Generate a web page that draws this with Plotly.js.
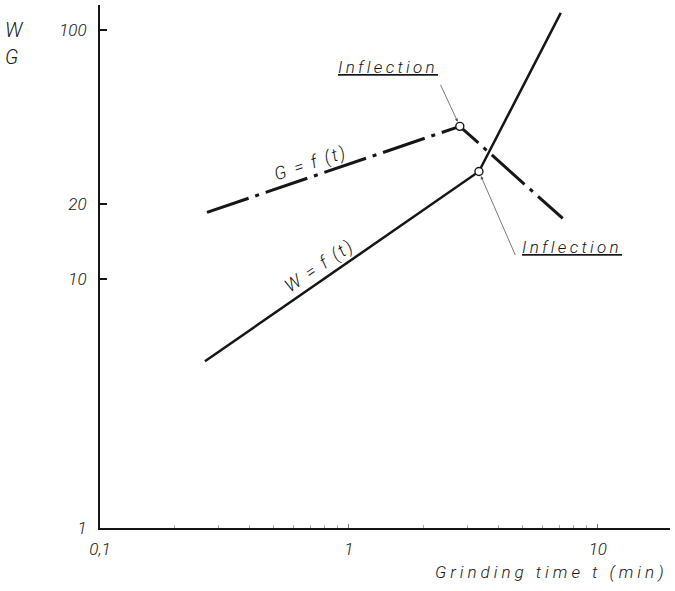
<!DOCTYPE html>
<html>
<head>
<meta charset="utf-8">
<script src="https://cdn.plot.ly/plotly-3.0.1.min.js"></script>
<style>
  html, body { margin: 0; padding: 0; background: #fff; }
  #chart { width: 675px; height: 591px; }
</style>
</head>
<body>
<div id="chart"></div>
<script>
// ---- data (log-log chart) ----
var timeW = [0.264, 3.33, 7.1];     // grinding time t (min) for W
var valuesW = [4.67, 27.0, 117];    // W = f(t)
var timeG = [0.269, 2.79, 7.23];    // grinding time t (min) for G
var valuesG = [18.5, 41.0, 17.5];   // G = f(t)
var inflectionIndex = 1;            // the middle point of each curve

var xTickVals = [0.1, 1, 10];
var xTickText = ['0,1', '1', '10'];
var yTickVals = [1, 10, 20, 100];
var yTickText = ['1', '10', '20', '100'];
var xMinorVals = [0.2,0.3,0.4,0.5,0.6,0.7,0.8,0.9,2,3,4,5,6,7,8,9];

var FONT = 'Roboto, Liberation Sans, Arial, sans-serif';
var INK = '#161616';

var traces = [
  { x: timeW, y: valuesW, mode: 'lines', type: 'scatter',
    line: { color: INK, width: 2.5 }, hoverinfo: 'skip' },
  { x: timeG, y: valuesG, mode: 'lines', type: 'scatter',
    line: { color: INK, width: 3, dash: '44px,7px,4px,7px' }, hoverinfo: 'skip' },
  { x: [timeG[inflectionIndex], timeW[inflectionIndex]],
    y: [valuesG[inflectionIndex], valuesW[inflectionIndex]],
    mode: 'markers', type: 'scatter',
    marker: { symbol: 'circle', size: 8, color: '#fff', line: { color: INK, width: 1.4 } },
    hoverinfo: 'skip' }
];

var lg = Math.log10;
function f(size) { return { family: FONT, size: size, color: INK, style: 'italic', weight: 300 }; }

var layout = {
  width: 675, height: 591,
  margin: { l: 100, r: 5, t: 5, b: 63 },
  paper_bgcolor: '#fff', plot_bgcolor: '#fff',
  showlegend: false,
  xaxis: {
    type: 'log', range: [-1, 1.29],
    showgrid: false, zeroline: false,
    showline: true, linecolor: INK, linewidth: 2,
    tickvals: xTickVals, ticktext: xTickText,
    ticks: 'inside', ticklen: 4, tickcolor: '#777', tickwidth: 1,
    minor: { tickvals: xMinorVals, ticks: 'inside', ticklen: 3, tickcolor: '#aaa', tickwidth: 1 },
    tickfont: f(17),
    ticklabelstandoff: 5
  },
  yaxis: {
    type: 'log', range: [0, 2.1],
    showgrid: false, zeroline: false,
    showline: true, linecolor: INK, linewidth: 2,
    tickvals: yTickVals, ticktext: yTickText,
    ticks: 'inside', ticklen: 7, tickcolor: INK, tickwidth: 1.3,
    tickfont: f(17),
    ticklabelstandoff: 8
  },
  annotations: [
    // x axis title, right aligned
    { xref: 'paper', yref: 'paper', x: 1, y: -0.085, xanchor: 'right', yanchor: 'middle',
      text: '<span style="letter-spacing:4px">Grinding time t (min)</span>',
      showarrow: false, font: f(17) },
    // axis symbols top-left
    { xref: 'paper', yref: 'paper', x: -0.15, y: 0.953, xanchor: 'center', yanchor: 'middle',
      text: 'W', showarrow: false, font: f(20) },
    { xref: 'paper', yref: 'paper', x: -0.155, y: 0.9, xanchor: 'center', yanchor: 'middle',
      text: 'G', showarrow: false, font: f(20) },
    // curve labels
    { xref: 'x', yref: 'y', x: -0.153, y: 1.464, showarrow: false, textangle: -18, font: f(18),
      text: '<span style="letter-spacing:2px">G = f (t)</span>' },
    { xref: 'x', yref: 'y', x: -0.120, y: 1.052, showarrow: false, textangle: -34, font: f(18),
      text: '<span style="letter-spacing:2px">W = f (t)</span>' },
    // upper inflection label (G curve)
    { xref: 'x', yref: 'y', x: lg(timeG[inflectionIndex]), y: lg(valuesG[inflectionIndex]),
      xshift: -72, yshift: 59, showarrow: false,
      text: '<span style="letter-spacing:3.3px;text-decoration:underline">Inflection</span>',
      font: f(17) },
    { xref: 'x', yref: 'y', x: lg(timeG[inflectionIndex]), y: lg(valuesG[inflectionIndex]),
      ax: -20, ay: -43, text: '', showarrow: true, arrowhead: 2, arrowsize: 0.8,
      arrowwidth: 0.8, arrowcolor: '#555', standoff: 5 },
    // lower inflection label (W curve)
    { xref: 'x', yref: 'y', x: lg(timeW[inflectionIndex]), y: lg(valuesW[inflectionIndex]),
      xshift: 93, yshift: -75, showarrow: false,
      text: '<span style="letter-spacing:3.3px;text-decoration:underline">Inflection</span>',
      font: f(17) },
    { xref: 'x', yref: 'y', x: lg(timeW[inflectionIndex]), y: lg(valuesW[inflectionIndex]),
      ax: 37, ay: 85, text: '', showarrow: true, arrowhead: 2, arrowsize: 0.8,
      arrowwidth: 0.8, arrowcolor: '#555', standoff: 5 }
  ]
};

Plotly.newPlot('chart', traces, layout, { displayModeBar: false, staticPlot: true });
</script>
</body>
</html>
